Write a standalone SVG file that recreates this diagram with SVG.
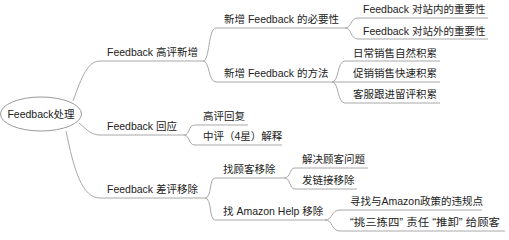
<svg xmlns="http://www.w3.org/2000/svg" width="509" height="240" viewBox="0 0 509 240">
<style>
text{font-family:"Liberation Sans","Noto Sans CJK SC",sans-serif;font-size:10.5px;fill:#222}
.u{stroke:#a8a8a8;stroke-width:1;fill:none}
.c path{stroke:#a8a8a8;stroke-width:1;fill:none}
</style>
<rect width="509" height="240" fill="#fff"/>
<g class="c" id="connectors">
<path d="M73,101 C82,76 88,61 100,61"/>
<path d="M79,123 C88,131 92,135 100,135"/>
<path d="M66,131 C74,170 82,198 100,198"/>
<path d="M203,61 C210,61 208,28 216,28"/>
<path d="M203,61 C210,61 208,82 216,82"/>
<path d="M345,28 C352,28 350,18 358,18"/>
<path d="M345,28 C352,28 350,39 358,39"/>
<path d="M332,82 C339,82 337,61 345,61"/>
<path d="M332,82 H345"/>
<path d="M332,82 C339,82 337,103 345,103"/>
<path d="M184,135 C190,135 188,125 195,125"/>
<path d="M184,135 C190,135 188,145 195,145"/>
<path d="M205,198 C212,198 209,178 215,178"/>
<path d="M205,198 C212,198 209,220 215,220"/>
<path d="M284,178 C291,178 289,168 295,168"/>
<path d="M284,178 C291,178 289,189 295,189"/>
<path d="M325,220 C333,220 331,210 340,210"/>
<path d="M325,220 C333,220 331,231 340,231"/>
</g>
<g id="root"><ellipse cx="41" cy="114" rx="40.5" ry="17" fill="#fff" stroke="#999"/><text x="41" y="118" text-anchor="middle">Feedback处理</text></g>
<g id="n1"><path class="u" d="M100,61 H203"/><text x="107" y="56">Feedback 高评新增</text></g>
<g id="n1a"><path class="u" d="M216,28 H345"/><text x="224" y="23">新增 Feedback 的必要性</text></g>
<g id="n1a1"><path class="u" d="M358,18 H488"/><text x="363" y="13">Feedback 对站内的重要性</text></g>
<g id="n1a2"><path class="u" d="M358,39 H488"/><text x="363" y="35">Feedback 对站外的重要性</text></g>
<g id="n1b"><path class="u" d="M216,82 H332"/><text x="224" y="77">新增 Feedback 的方法</text></g>
<g id="n1b1"><path class="u" d="M345,61 H440"/><text x="353" y="57">日常销售自然积累</text></g>
<g id="n1b2"><path class="u" d="M345,82 H440"/><text x="353" y="77">促销销售快速积累</text></g>
<g id="n1b3"><path class="u" d="M345,103 H440"/><text x="353" y="98">客服跟进留评积累</text></g>
<g id="n2"><path class="u" d="M100,135 H184"/><text x="107" y="130">Feedback 回应</text></g>
<g id="n2a"><path class="u" d="M195,125 H248"/><text x="203" y="120">高评回复</text></g>
<g id="n2b"><path class="u" d="M195,145 H282"/><text x="203" y="140">中评（4星）解释</text></g>
<g id="n3"><path class="u" d="M100,198 H205"/><text x="107" y="193">Feedback 差评移除</text></g>
<g id="n3a"><path class="u" d="M215,178 H284"/><text x="223" y="173">找顾客移除</text></g>
<g id="n3a1"><path class="u" d="M295,168 H368"/><text x="302" y="163">解决顾客问题</text></g>
<g id="n3a2"><path class="u" d="M295,189 H357"/><text x="302" y="184">发链接移除</text></g>
<g id="n3b"><path class="u" d="M215,220 H325"/><text x="223" y="215">找 Amazon Help 移除</text></g>
<g id="n3b1"><path class="u" d="M340,210 H482"/><text x="350" y="205">寻找与Amazon政策的违规点</text></g>
<g id="n3b2"><path class="u" d="M340,231 H505"/><text x="350" y="226" textLength="150" lengthAdjust="spacingAndGlyphs">“挑三拣四” 责任 “推卸” 给顾客</text></g>
</svg>
